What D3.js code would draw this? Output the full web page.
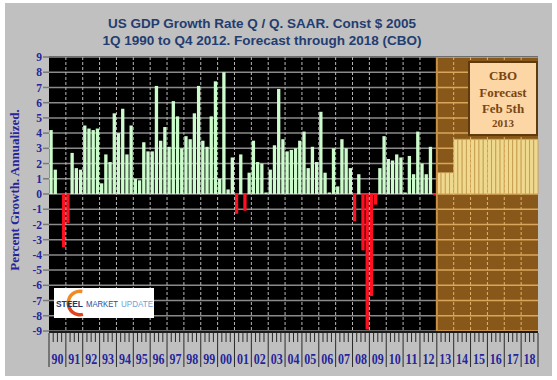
<!DOCTYPE html>
<html>
<head>
<meta charset="utf-8">
<script src="https://cdn.jsdelivr.net/npm/d3@7"></script>
<style>
  body { margin: 0; background: #ffffff; }
  svg { display: block; }
</style>
</head>
<body>
<div id="container"></div>
<script>
// year labels along the bottom (1990 - 2018)
const yearLabels = ["90","91","92","93","94","95","96","97","98","99","00","01","02","03","04",
                    "05","06","07","08","09","10","11","12","13","14","15","16","17","18"];

// actual quarterly growth, 1Q1990 .. 4Q2012 (percent, SAAR)
const gdpActual = [
    4.2, 1.6, 0.0, -3.5,   // 1990
   -1.9, 2.7, 1.7, 1.6,    // 1991
    4.5, 4.3, 4.2, 4.3,    // 1992
    0.7, 2.6, 2.1, 5.3,    // 1993
    4.0, 5.6, 2.6, 4.5,    // 1994
    1.0, 0.9, 3.4, 2.8,    // 1995
    2.8, 7.1, 3.5, 4.4,    // 1996
    3.1, 6.1, 5.1, 3.0,    // 1997
    3.8, 3.6, 5.3, 7.1,    // 1998
    3.5, 3.1, 5.1, 7.4,    // 1999
    1.0, 8.0, 0.3, 2.4,    // 2000
   -1.3, 2.6, -1.1, 1.4,   // 2001
    3.5, 2.1, 2.0, 0.1,    // 2002
    1.6, 3.2, 6.9, 3.6,    // 2003
    2.8, 2.9, 3.0, 3.5,    // 2004
    4.1, 1.7, 3.1, 2.1,    // 2005
    5.4, 1.4, 0.1, 3.0,    // 2006
    0.5, 3.6, 3.0, 1.7,    // 2007
   -1.8, 1.3, -3.7, -8.9,  // 2008
   -6.7, -0.7, 1.7, 3.8,   // 2009
    2.3, 2.2, 2.6, 2.4,    // 2010
    0.1, 2.5, 1.3, 4.1,    // 2011
    2.0, 1.3, 3.1, -0.1    // 2012
];

// CBO forecast, 1Q2013 .. 4Q2018
const gdpForecast = [
    1.4, 1.4, 1.4, 1.4,    // 2013
    3.6, 3.6, 3.6, 3.6,    // 2014
    3.6, 3.6, 3.6, 3.6,    // 2015
    3.6, 3.6, 3.6, 3.6,    // 2016
    3.6, 3.6, 3.6, 3.6,    // 2017
    3.6, 3.6, 3.6, 3.6     // 2018
];

const yTicks = [9, 8, 7, 6, 5, 4, 3, 2, 1, 0, -1, -2, -3, -4, -5, -6, -7, -8, -9];
const titleLines = ["US GDP Growth Rate Q / Q. SAAR. Const $ 2005",
                    "1Q 1990 to Q4 2012. Forecast through 2018 (CBO)"];
const boxLines = ["CBO", "Forecast", "Feb 5th", "2013"];
const logoWords = ["STEEL", "MARKET", "UPDATE"];

const W = 557, H = 380;
const plot = { left: 49, right: 538, top: 57, bottom: 331 };
const nQ = gdpActual.length + gdpForecast.length;

const svg = d3.select("#container").append("svg")
    .attr("width", W).attr("height", H);

// grey chart background
svg.append("rect")
    .attr("x", 5).attr("y", 3).attr("width", 547).attr("height", 373)
    .attr("fill", "#c0c0c0");

// title
svg.append("g").selectAll("text")
    .data(titleLines)
    .enter().append("text")
    .attr("x", 262)
    .attr("y", (d, i) => 28 + i * 17)
    .attr("text-anchor", "middle")
    .attr("font-family", "Liberation Sans, Arial, sans-serif")
    .attr("font-weight", "bold")
    .attr("font-size", 13.5)
    .attr("fill", "#233d70")
    .text(d => d);

const x = d3.scaleLinear().domain([0, nQ]).range([plot.left, plot.right]);
const y = d3.scaleLinear().domain([-9, 9]).range([plot.bottom, plot.top]);
const step = x(1) - x(0);
const splitQ = gdpActual.length;

// plot backgrounds
svg.append("rect")
    .attr("x", plot.left).attr("y", plot.top)
    .attr("width", x(splitQ) - plot.left).attr("height", plot.bottom - plot.top)
    .attr("fill", "#000000");
svg.append("rect")
    .attr("x", x(splitQ)).attr("y", plot.top)
    .attr("width", plot.right - x(splitQ)).attr("height", plot.bottom - plot.top)
    .attr("fill", "#875819");

// horizontal gridlines
svg.append("g").selectAll("line")
    .data(yTicks)
    .enter().append("line")
    .attr("x1", plot.left).attr("x2", x(splitQ))
    .attr("y1", d => y(d)).attr("y2", d => y(d))
    .attr("stroke", "#8a8a8a").attr("stroke-width", 1.5);
svg.append("g").selectAll("line")
    .data(yTicks)
    .enter().append("line")
    .attr("x1", x(splitQ)).attr("x2", plot.right)
    .attr("y1", d => y(d)).attr("y2", d => y(d))
    .attr("stroke", "#d9a65c").attr("stroke-width", 1.5);

// y tick marks and labels
svg.append("g").selectAll("line")
    .data(yTicks)
    .enter().append("line")
    .attr("x1", 43).attr("x2", plot.left)
    .attr("y1", d => y(d)).attr("y2", d => y(d))
    .attr("stroke", "#7a7a7a").attr("stroke-width", 1.5);
svg.append("g").selectAll("text")
    .data(yTicks)
    .enter().append("text")
    .attr("x", 42)
    .attr("y", d => y(d))
    .attr("dy", "0.36em")
    .attr("text-anchor", "end")
    .attr("font-family", "Liberation Serif, Times New Roman, serif")
    .attr("font-weight", "bold")
    .attr("font-size", 11.5)
    .attr("fill", "#26259a")
    .text(d => d);

// axis title
svg.append("text")
    .attr("transform", "translate(19," + 190 + ") rotate(-90)")
    .attr("text-anchor", "middle")
    .attr("font-family", "Liberation Serif, Times New Roman, serif")
    .attr("font-weight", "bold")
    .attr("font-size", 13)
    .attr("fill", "#26259a")
    .text("Percent Growth. Annualized.");

// actual bars
svg.append("g").selectAll("rect")
    .data(gdpActual)
    .enter().append("rect")
    .attr("x", (d, i) => x(i) + 0.4)
    .attr("width", step - 0.9)
    .attr("y", d => y(Math.max(0, d)))
    .attr("height", d => Math.abs(y(d) - y(0)))
    .attr("fill", d => d < 0 ? "#ff1020" : "#ccfccc");

// forecast bars
svg.append("g").selectAll("rect")
    .data(gdpForecast)
    .enter().append("rect")
    .attr("x", (d, i) => x(splitQ + i))
    .attr("width", step)
    .attr("y", d => y(d))
    .attr("height", d => y(0) - y(d))
    .attr("fill", "#efd98e")
    .attr("stroke", "#c49a4c")
    .attr("stroke-width", 0.8);

// vertical dashed year gridlines
const yearIdx = d3.range(1, yearLabels.length);
svg.append("g").selectAll("line")
    .data(yearIdx)
    .enter().append("line")
    .attr("x1", d => x(d * 4)).attr("x2", d => x(d * 4))
    .attr("y1", plot.top).attr("y2", plot.bottom)
    .attr("stroke", d => d * 4 > splitQ ? "#e0b468" : "#b8b8b8")
    .attr("stroke-width", 1)
    .attr("stroke-dasharray", "3,2");

// forecast region edges
svg.append("line")
    .attr("x1", x(splitQ)).attr("x2", x(splitQ))
    .attr("y1", plot.top).attr("y2", plot.bottom)
    .attr("stroke", "#c98f45").attr("stroke-width", 2);
svg.append("line")
    .attr("x1", plot.left).attr("x2", plot.right)
    .attr("y1", plot.top - 0.5).attr("y2", plot.top - 0.5)
    .attr("stroke", "#6e6e6e").attr("stroke-width", 1);
svg.append("line")
    .attr("x1", plot.left).attr("x2", plot.right)
    .attr("y1", plot.bottom + 1).attr("y2", plot.bottom + 1)
    .attr("stroke", "#1a1a1a").attr("stroke-width", 2);

// CBO box
const box = { x: 470, y: 63, w: 66, h: 71 };
svg.append("rect")
    .attr("x", box.x - 2).attr("y", box.y - 2)
    .attr("width", box.w + 4).attr("height", box.h + 4)
    .attr("fill", "#5e3a0e");
svg.append("rect")
    .attr("x", box.x).attr("y", box.y)
    .attr("width", box.w).attr("height", box.h)
    .attr("fill", "#fdd6a6");
svg.append("g").selectAll("text")
    .data(boxLines)
    .enter().append("text")
    .attr("x", box.x + box.w / 2)
    .attr("y", (d, i) => [80, 96.5, 113, 127][i])
    .attr("text-anchor", "middle")
    .attr("font-family", "Liberation Serif, Times New Roman, serif")
    .attr("font-weight", "bold")
    .attr("font-size", (d, i) => i === 3 ? 11 : 13)
    .attr("fill", "#7a4614")
    .text(d => d);

// x axis: quarter ticks, year dividers, labels
svg.append("g").selectAll("line")
    .data(d3.range(0, nQ + 1))
    .enter().append("line")
    .attr("x1", d => x(d)).attr("x2", d => x(d))
    .attr("y1", plot.bottom + 2)
    .attr("y2", d => d % 4 === 0 ? 367 : 342)
    .attr("stroke", "#2a2a2a").attr("stroke-width", 1);
svg.append("g").selectAll("text")
    .data(yearLabels)
    .enter().append("text")
    .attr("x", (d, i) => x(i * 4 + 2))
    .attr("y", 364)
    .attr("text-anchor", "middle")
    .attr("font-family", "Liberation Serif, Times New Roman, serif")
    .attr("font-weight", "bold")
    .attr("font-size", 15)
    .attr("textLength", 12)
    .attr("lengthAdjust", "spacingAndGlyphs")
    .attr("fill", "#26259a")
    .text(d => d);

// Steel Market Update logo
const logo = svg.append("g");
logo.append("rect")
    .attr("x", 54).attr("y", 288).attr("width", 100).attr("height", 30)
    .attr("fill", "#ffffff");
logo.append("path")
    .attr("transform", "translate(80,303)")
    .attr("d", d3.arc().innerRadius(10).outerRadius(13.5)
        .startAngle(0.2).endAngle(-Math.PI / 2)())
    .attr("fill", "#f08a24");
logo.append("path")
    .attr("transform", "translate(80,303)")
    .attr("d", d3.arc().innerRadius(10).outerRadius(13.5)
        .startAngle(-Math.PI / 2).endAngle(-Math.PI - 0.25)())
    .attr("fill", "#e3401c");
const logoPos = [{ x: 56, w: 27 }, { x: 86, w: 32 }, { x: 121, w: 32 }];
logo.selectAll("text")
    .data(logoWords)
    .enter().append("text")
    .attr("x", (d, i) => logoPos[i].x)
    .attr("y", 307)
    .attr("font-family", "Liberation Sans, Arial, sans-serif")
    .attr("font-size", 9)
    .attr("font-weight", (d, i) => i === 0 ? "bold" : "normal")
    .attr("textLength", (d, i) => logoPos[i].w)
    .attr("lengthAdjust", "spacingAndGlyphs")
    .attr("fill", (d, i) => ["#1f3470", "#2c4c98", "#6fa3d8"][i])
    .text(d => d);
</script>
</body>
</html>
